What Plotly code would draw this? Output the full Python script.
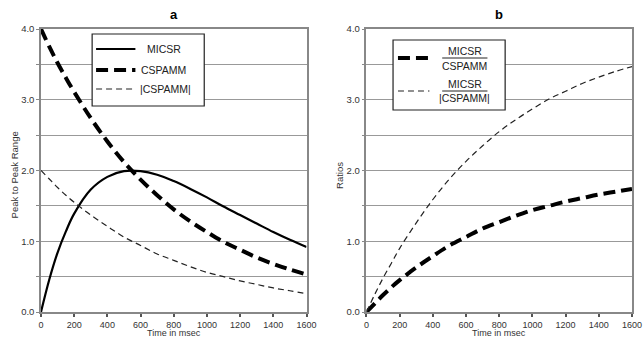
import plotly.graph_objects as go

# ---- data ----
t = [0, 50, 100, 150, 200, 300, 400, 500, 600, 700, 800, 900, 1000,
     1100, 1200, 1300, 1400, 1500, 1600]
micsr = [0.00, 0.46, 0.84, 1.14, 1.39, 1.73, 1.91, 1.99, 1.99, 1.94, 1.85,
         1.74, 1.62, 1.49, 1.37, 1.25, 1.13, 1.02, 0.92]
cspamm = [4.00, 3.75, 3.52, 3.31, 3.11, 2.74, 2.41, 2.12, 1.87, 1.65, 1.45,
          1.28, 1.13, 0.99, 0.88, 0.77, 0.68, 0.60, 0.53]
abs_cspamm = [2.00, 1.88, 1.76, 1.65, 1.55, 1.37, 1.21, 1.06, 0.94, 0.82,
              0.73, 0.64, 0.56, 0.50, 0.44, 0.39, 0.34, 0.30, 0.26]
ratio_c = [0.00, 0.12, 0.24, 0.35, 0.45, 0.63, 0.79, 0.94, 1.06, 1.18, 1.27,
           1.36, 1.44, 1.50, 1.56, 1.61, 1.66, 1.70, 1.74]
ratio_abs = [0.00, 0.25, 0.48, 0.69, 0.90, 1.26, 1.59, 1.88, 2.13, 2.35,
             2.55, 2.72, 2.87, 3.01, 3.12, 3.23, 3.32, 3.40, 3.47]

x_ticks = [0, 200, 400, 600, 800, 1000, 1200, 1400, 1600]
y_grid = [0, 0.5, 1, 1.5, 2, 2.5, 3, 3.5, 4]
y_labels = ["0.0", "", "1.0", "", "2.0", "", "3.0", "", "4.0"]

FONT = "Liberation Sans, Arial, sans-serif"
W, H = 644, 339
ML, MR, MT, MB = 41, 2, 29, 27
PW = W - ML - MR
PH = H - MT - MB


def px(x):
    return (x - ML) / PW


def py(y):
    return (H - MB - y) / PH


fig = go.Figure()

thick_dash = "12px,6px"
thin_dash = "6px,4px"

fig.add_trace(go.Scatter(x=t, y=micsr, mode="lines", line_shape="spline",
                         line=dict(color="black", width=2.2), xaxis="x", yaxis="y"))
fig.add_trace(go.Scatter(x=t, y=cspamm, mode="lines", line_shape="spline",
                         line=dict(color="black", width=4, dash=thick_dash), xaxis="x", yaxis="y"))
fig.add_trace(go.Scatter(x=t, y=abs_cspamm, mode="lines", line_shape="spline",
                         line=dict(color="#222", width=1.2, dash=thin_dash), xaxis="x", yaxis="y"))
fig.add_trace(go.Scatter(x=t, y=ratio_c, mode="lines", line_shape="spline",
                         line=dict(color="black", width=4, dash=thick_dash), xaxis="x2", yaxis="y2"))
fig.add_trace(go.Scatter(x=t, y=ratio_abs, mode="lines", line_shape="spline",
                         line=dict(color="#222", width=1.2, dash=thin_dash), xaxis="x2", yaxis="y2"))

xax = dict(range=[0, 1600], tickvals=x_ticks, ticks="outside", ticklen=3,
           tickcolor="#555", tickwidth=1.5, showline=True, linecolor="#888",
           linewidth=1.5, mirror=True, showgrid=False, zeroline=False,
           ticklabelstandoff=0,
           tickfont=dict(family=FONT, size=9, color="#333"))
yax = dict(range=[0, 4], tickvals=y_grid, ticktext=y_labels, ticks="outside",
           ticklen=3, tickcolor="#888", showline=True, linecolor="#888",
           linewidth=1.5, mirror=True, showgrid=True, gridcolor="#999",
           gridwidth=1, zeroline=False,
           tickfont=dict(family=FONT, size=9.5, color="#333"))

d1 = [0, px(311)]
d2 = [px(372), 1]

fig.update_layout(
    width=W, height=H, margin=dict(l=ML, r=MR, t=MT, b=MB),
    paper_bgcolor="white", plot_bgcolor="white", showlegend=False,
    font=dict(family=FONT, color="#333"),
    xaxis=dict(xax, domain=d1, anchor="y"),
    yaxis=dict(yax, anchor="x"),
    xaxis2=dict(xax, domain=d2, anchor="y2"),
    yaxis2=dict(yax, anchor="x2"),
)

shapes = []
ann = []


def text(x, y, s, size=10.5, color="#222", angle=0, yanchor="middle"):
    ann.append(dict(x=px(x), y=py(y), xref="paper", yref="paper", text=s,
                    xanchor="center", yanchor=yanchor, showarrow=False,
                    textangle=angle, borderpad=0,
                    font=dict(family=FONT, size=size, color=color)))


# panel titles
text(176, 14, "<b>a</b>", size=13, color="black")
text(507, 14, "<b>b</b>", size=13, color="black")
# axis titles
text(176, 339, "Time in msec", size=9, color="#333", yanchor="bottom")
text(507, 339, "Time in msec", size=9, color="#333", yanchor="bottom")
text(14, 175, "Peak to Peak Range", size=9.5, color="#333", angle=-90)
text(344, 175, "Ratios", size=9.5, color="#333", angle=-90)

# legend a
shapes.append(dict(type="rect", xref="paper", yref="paper", x0=px(93), x1=px(207),
                   y0=py(106), y1=py(34), line=dict(color="#222", width=1.2),
                   fillcolor="white", layer="above"))
leg_a = [(49, dict(color="black", width=2.2), "MICSR", 166),
         (70, dict(color="black", width=4, dash=thick_dash), "CSPAMM", 166),
         (89, dict(color="#222", width=1.2, dash=thin_dash), "|CSPAMM|", 168)]
for yy, ln, txt, tx in leg_a:
    shapes.append(dict(type="line", xref="paper", yref="paper", x0=px(97), x1=px(137),
                       y0=py(yy), y1=py(yy), line=ln, layer="above"))
    text(tx, yy, txt)

# legend b
shapes.append(dict(type="rect", xref="paper", yref="paper", x0=px(399), x1=px(513),
                   y0=py(110), y1=py(40), line=dict(color="#222", width=1.2),
                   fillcolor="white", layer="above"))
leg_b = [(58, dict(color="black", width=4, dash=thick_dash), "CSPAMM"),
         (91, dict(color="#222", width=1.2, dash=thin_dash), "|CSPAMM|")]
for yy, ln, den in leg_b:
    shapes.append(dict(type="line", xref="paper", yref="paper", x0=px(404), x1=px(436),
                       y0=py(yy), y1=py(yy), line=ln, layer="above"))
    shapes.append(dict(type="line", xref="paper", yref="paper", x0=px(449), x1=px(495),
                       y0=py(yy), y1=py(yy), line=dict(color="#222", width=1), layer="above"))
    text(472, yy - 7.5, "MICSR")
    text(472, yy + 7.5, den)

fig.update_layout(shapes=shapes, annotations=ann)
fig.write_html("out.html")
